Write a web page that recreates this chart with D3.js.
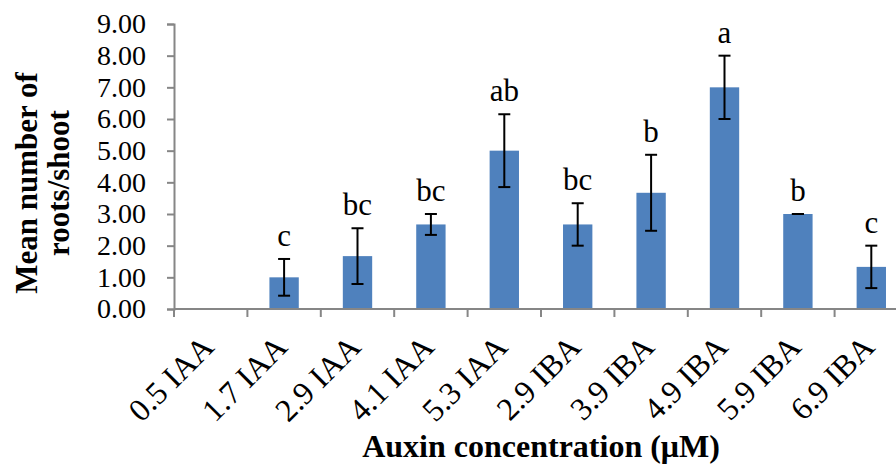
<!DOCTYPE html>
<html>
<head>
<meta charset="utf-8">
<script src="https://cdn.jsdelivr.net/npm/d3@7"></script>
<style>
  html, body { margin: 0; padding: 0; background: #fff; }
  svg { display: block; font-family: "Liberation Serif", "Times New Roman", serif; }
</style>
</head>
<body>
<div id="chart"></div>
<script>
// data
const categories = ["0.5 IAA", "1.7 IAA", "2.9 IAA", "4.1 IAA", "5.3 IAA",
                    "2.9 IBA", "3.9 IBA", "4.9 IBA", "5.9 IBA", "6.9 IBA"];
const means  = [0, 1.00, 1.67, 2.67, 5.00, 2.67, 3.67, 7.00, 3.00, 1.33];
const errors = [0, 0.58, 0.88, 0.33, 1.15, 0.67, 1.20, 1.00, 0.00, 0.67];
const letters = ["", "c", "bc", "bc", "ab", "bc", "b", "a", "b", "c"];
const yTicks = [0, 1, 2, 3, 4, 5, 6, 7, 8, 9];

const width = 896, height = 470;
const plotLeft = 174, plotTop = 24, plotBottom = 309, plotRight = 908;
const barColor = "#4F81BD";
const axisColor = "#868686";

const svg = d3.select("#chart")
  .append("svg")
  .attr("width", width)
  .attr("height", height)
  .attr("viewBox", `0 0 ${width} ${height}`);

const x = d3.scaleBand()
  .domain(categories)
  .range([plotLeft, plotRight])
  .paddingInner(0.6)
  .paddingOuter(0.3);

const y = d3.scaleLinear()
  .domain([0, 9])
  .range([plotBottom, plotTop]);

// bars
svg.append("g")
  .selectAll("rect")
  .data(categories)
  .enter()
  .append("rect")
  .attr("x", d => x(d))
  .attr("width", x.bandwidth())
  .attr("y", (d, i) => y(means[i]))
  .attr("height", (d, i) => y(0) - y(means[i]))
  .attr("fill", barColor);

// error bars
const capHalf = 6;
const eb = svg.append("g")
  .selectAll("g")
  .data(categories.map((c, i) => ({ c, i })).filter(d => means[d.i] > 0))
  .enter()
  .append("g")
  .attr("stroke", "#000")
  .attr("stroke-width", 2);

const cx = d => x(d.c) + x.bandwidth() / 2;
eb.append("line")
  .attr("x1", cx).attr("x2", cx)
  .attr("y1", d => y(means[d.i] + errors[d.i]))
  .attr("y2", d => y(means[d.i] - errors[d.i]));
eb.append("line")
  .attr("x1", d => cx(d) - capHalf).attr("x2", d => cx(d) + capHalf)
  .attr("y1", d => y(means[d.i] + errors[d.i]))
  .attr("y2", d => y(means[d.i] + errors[d.i]));
eb.append("line")
  .attr("x1", d => cx(d) - capHalf).attr("x2", d => cx(d) + capHalf)
  .attr("y1", d => y(means[d.i] - errors[d.i]))
  .attr("y2", d => y(means[d.i] - errors[d.i]));

// significance letters
svg.append("g")
  .selectAll("text")
  .data(categories)
  .enter()
  .append("text")
  .attr("x", d => x(d) + x.bandwidth() / 2)
  .attr("y", (d, i) => y(means[i] + errors[i]) - 13)
  .attr("text-anchor", "middle")
  .style("font-size", "31px")
  .attr("fill", "#000")
  .text((d, i) => letters[i]);

// y axis
const yAxis = svg.append("g")
  .attr("transform", `translate(${plotLeft},0)`)
  .call(d3.axisLeft(y).tickValues(yTicks).tickSize(7).tickPadding(21)
    .tickFormat(d => d.toFixed(2)));
yAxis.select(".domain").attr("stroke", axisColor).attr("stroke-width", 2);
yAxis.selectAll(".tick line").attr("stroke", axisColor).attr("stroke-width", 2);
yAxis.selectAll(".tick text")
  .attr("fill", "#000")
  .style("font-size", "28px")
  .style("font-family", "'Liberation Serif', 'Times New Roman', serif");

// x axis
const band = x.step();
const xAxis = svg.append("g")
  .attr("transform", `translate(0,${plotBottom})`);
xAxis.append("line")
  .attr("x1", plotLeft).attr("x2", plotRight)
  .attr("stroke", axisColor).attr("stroke-width", 2);
xAxis.selectAll(".xtick")
  .data(d3.range(categories.length + 1))
  .enter()
  .append("line")
  .attr("x1", i => plotLeft + i * band).attr("x2", i => plotLeft + i * band)
  .attr("y1", 0).attr("y2", 8)
  .attr("stroke", axisColor).attr("stroke-width", 2);
xAxis.selectAll(".xlabel")
  .data(categories)
  .enter()
  .append("text")
  .attr("transform", d => `translate(${x(d) + x.bandwidth() / 2 + 5},40) rotate(-45)`)
  .attr("text-anchor", "end")
  .style("font-size", "32px")
  .attr("fill", "#000")
  .text(d => d);

// axis titles
const yTitle = svg.append("text")
  .attr("transform", "translate(37,183) rotate(-90)")
  .attr("text-anchor", "middle")
  .style("font-size", "31px")
  .style("font-weight", "bold");
yTitle.append("tspan").attr("x", 0).attr("y", 0).text("Mean number of");
yTitle.append("tspan").attr("x", 0).attr("y", 32).text("roots/shoot");

svg.append("text")
  .attr("x", 541)
  .attr("y", 457)
  .attr("text-anchor", "middle")
  .style("font-size", "32px")
  .style("font-weight", "bold")
  .text("Auxin concentration (μM)");
</script>
</body>
</html>
